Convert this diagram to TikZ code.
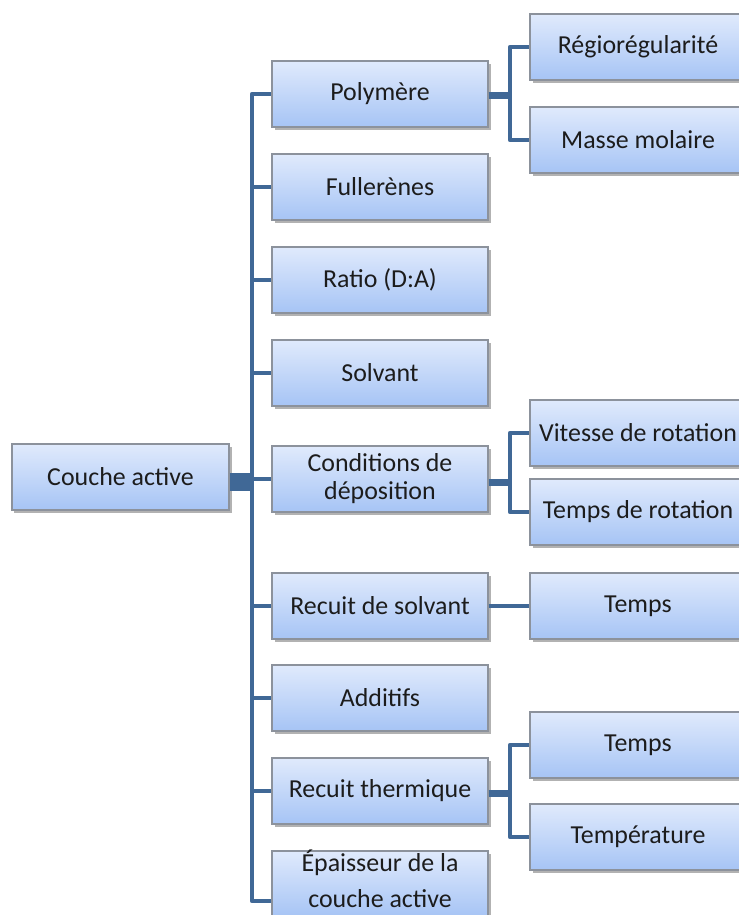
\documentclass[tikz,border=0pt]{standalone}
\usepackage{fontspec}
\setmainfont{Carlito}
\usetikzlibrary{shadows,calc}
\definecolor{linkblue}{RGB}{64,104,150}
\definecolor{boxtop}{RGB}{224,234,252}
\definecolor{boxbot}{RGB}{166,196,245}
\definecolor{boxedge}{RGB}{140,146,156}
\definecolor{ink}{RGB}{28,28,28}
\tikzset{
  box/.style={draw=boxedge, line width=1.2bp, top color=boxtop, bottom color=boxbot,
    minimum height=66bp, inner sep=0pt, text=ink, align=center,
    font=\fontsize{26}{28}\selectfont,
    drop shadow={shadow xshift=2.5bp, shadow yshift=-3bp, opacity=0.3, fill=black}},
  lvlone/.style={box, minimum width=216bp},
  lvltwo/.style={box, minimum width=216bp},
  link/.style={draw=linkblue, line width=4.5bp, line join=round},
  stub/.style={draw=linkblue, line width=7bp},
}
\begin{document}
\begin{tikzpicture}[x=1bp,y=-1bp]
\useasboundingbox (0,0) rectangle (739,915);

% root
\node[box, minimum width=217bp] (root) at (120.5,477) {Couche active};

% first level
\node[lvlone] (poly) at (380,94)  {Polymère};
\node[lvlone] (full) at (380,187) {Fullerènes};
\node[lvlone] (ratio) at (380,280) {Ratio (D:A)};
\node[lvlone] (solv) at (380,373) {Solvant};
\node[lvlone] (cond) at (380,479) {Conditions de\\déposition};
\node[lvlone] (rsolv) at (380,606) {Recuit de solvant};
\node[lvlone] (addi) at (380,698) {Additifs};
\node[lvlone] (rther) at (380,791) {Recuit thermique};
\node[lvlone] (epai) at (380,884) {};
\node[text=ink, align=center, inner sep=0pt, font=\fontsize{26}{36}\selectfont] (epaitext) at (380,879) {Épaisseur de la\\couche active};

% second level
\node[lvltwo] (regio) at (638,47)  {Régiorégularité};
\node[lvltwo] (masse) at (638,140) {Masse molaire};
\node[lvltwo] (vit)   at (638,433) {Vitesse de rotation};
\node[lvltwo] (trot)  at (638,512) {Temps de rotation};
\node[lvltwo] (tsolv) at (638,606) {Temps};
\node[lvltwo] (tther) at (638,745) {Temps};
\node[lvltwo] (temp)  at (638,837) {Température};

% main trunk
\coordinate (trunk) at (252,482);
\draw[draw=linkblue, line width=18bp] ($(root.east)+(0,5)$) -- (trunk);
\foreach \n in {poly,full,ratio,solv,cond,rsolv,addi,rther}
  \draw[link] (trunk) |- (\n.west);
\draw[link] (trunk) |- ($(epai.west)+(0,17)$);

% branches to the second level
\coordinate (bpoly) at (510,95);
\draw[stub] ($(poly.east)+(0,1)$) -- (bpoly);
\draw[link] (bpoly) |- (regio.west);
\draw[link] (bpoly) |- (masse.west);

\coordinate (bcond) at (510,482);
\draw[stub] ($(cond.east)+(0,3)$) -- (bcond);
\draw[link] (bcond) |- (vit.west);
\draw[link] (bcond) |- (trot.west);

\draw[link] (rsolv.east) -- (tsolv.west);

\coordinate (bther) at (510,793);
\draw[stub] ($(rther.east)+(0,2)$) -- (bther);
\draw[link] (bther) |- (tther.west);
\draw[link] (bther) |- (temp.west);
\end{tikzpicture}
\end{document}
